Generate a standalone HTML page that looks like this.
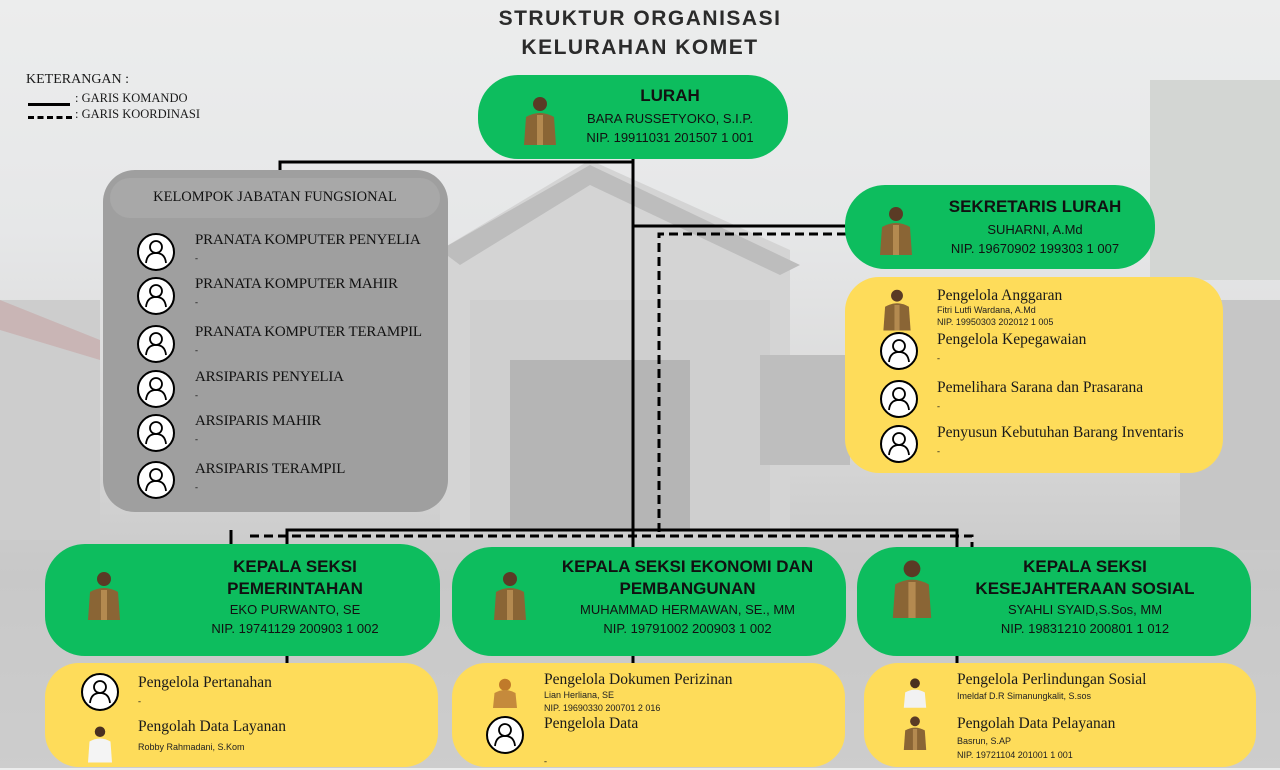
<!DOCTYPE html>
<html><head><meta charset="utf-8"><style>
*{margin:0;padding:0;box-sizing:border-box}
body{width:1280px;height:768px;position:relative;overflow:hidden;font-family:"Liberation Sans",sans-serif;background:linear-gradient(#eceded 0%,#e6e7e8 30%,#d9d9d9 55%,#c9c9c9 75%,#d2d2d2 100%)}
.a{position:absolute}
.g{position:absolute;background:#0dbd5e;border-radius:40px}
.y{position:absolute;background:#fedc5a;border-radius:34px}
.c{text-align:center;color:#111}
.h{font-weight:bold;font-size:17px;line-height:22px}
.s{font-size:13px;line-height:19px}
.sf{font-family:"Liberation Serif",serif;color:#1a1a1a}
.t{font-size:15.5px}
.tg{font-size:15px;letter-spacing:-0.2px}
.sm{font-size:9px;font-family:"Liberation Sans",sans-serif;color:#222}
</style></head><body>
<svg class="a" style="left:0;top:0" width="1280" height="768">
<polygon points="440,250 590,160 790,250 790,530 440,530" fill="#d4d4d4"/>
<polygon points="440,250 590,165 800,265 780,275 590,185 460,265" fill="#bdbdbd"/>
<rect x="470" y="300" width="300" height="230" fill="#cfcfcf"/>
<rect x="510" y="360" width="180" height="170" fill="#b5b5b5"/>
<rect x="760" y="355" width="90" height="110" fill="#bebebe"/>
<rect x="0" y="300" width="100" height="240" fill="#cdcdcd"/>
<polygon points="0,300 100,340 100,360 0,330" fill="#c9b5b5"/>
<rect x="1150" y="80" width="130" height="200" fill="#d3d6d3"/>
<rect x="1180" y="300" width="100" height="250" fill="#c6c6c6"/>
<rect x="0" y="540" width="1280" height="228" fill="#c8c8c8" opacity=".5"/>
</svg>

<div class="a c" style="left:440px;top:4px;width:400px;font-weight:bold;font-size:21px;line-height:29px;letter-spacing:1.5px;color:#2b2b2b">STRUKTUR ORGANISASI<br>KELURAHAN KOMET</div>

<div class="a sf" style="left:26px;top:72px;font-size:14px">KETERANGAN :</div>
<div class="a" style="left:28px;top:103px;width:42px;border-top:3px solid #000"></div>
<div class="a sf" style="left:75px;top:91px;font-size:12.5px">: GARIS KOMANDO</div>
<div class="a" style="left:28px;top:116px;width:44px;border-top:3px dashed #000"></div>
<div class="a sf" style="left:75px;top:107px;font-size:12.5px">: GARIS KOORDINASI</div>

<svg class="a" style="left:0;top:0" width="1280" height="768">
<g stroke="#000" stroke-width="3" fill="none">
<polyline points="280,172 280,162 632,162"/>
<line x1="633" y1="158" x2="633" y2="548"/>
<line x1="633" y1="226" x2="846" y2="226"/>
<polyline points="287,547 287,530 957,530 957,547"/>
<line x1="231" y1="530" x2="231" y2="546"/>
<line x1="287" y1="655" x2="287" y2="665"/>
<line x1="633" y1="655" x2="633" y2="665"/>
<line x1="957" y1="655" x2="957" y2="665"/>
</g>
<g stroke="#000" stroke-width="3" fill="none" stroke-dasharray="9,5">
<polyline points="846,234 659,234 659,536"/>
<polyline points="250,536 972,536 972,550"/>
</g>
</svg>

<svg width="0" height="0" style="position:absolute"><defs>
<g id="pi"><circle cx="19" cy="19" r="18" fill="#fff" stroke="#000" stroke-width="2"/><circle cx="19" cy="14" r="6" fill="none" stroke="#000" stroke-width="1.8"/><path d="M9,30 Q10,20 19,20 Q28,20 29,30" fill="none" stroke="#000" stroke-width="1.8"/></g>
<g id="ph"><circle cx="20" cy="9" r="7" fill="#5a3b25"/><path d="M4,50 L6,22 Q20,14 34,22 L36,50Z" fill="#8a6535"/><rect x="17" y="20" width="6" height="30" fill="#b48a50"/></g>
</defs></svg>

<div class="g" style="left:478px;top:75px;width:310px;height:84px"></div>
<svg class="a" style="left:520px;top:95px" width="40" height="52"><use href="#ph"/></svg>
<div class="a c" style="left:570px;top:85px;width:200px"><div class="h">LURAH</div><div class="s" style="margin-top:2px">BARA RUSSETYOKO, S.I.P.</div><div class="s">NIP. 19911031 201507 1 001</div></div>

<div class="a" style="left:103px;top:170px;width:345px;height:342px;background:#9f9f9f;border-radius:32px"></div>
<div class="a" style="left:110px;top:178px;width:330px;height:40px;background:#a8a8a8;border-radius:20px"></div>
<div class="a sf c" style="left:110px;top:189px;width:330px;font-size:14.5px;color:#111">KELOMPOK JABATAN FUNGSIONAL</div>
<div class="a" style="left:137px;top:233px">
<svg width="40" height="280" style="position:absolute;left:0;top:0"><use href="#pi" y="0"/><use href="#pi" y="44"/><use href="#pi" y="92"/><use href="#pi" y="137"/><use href="#pi" y="181"/><use href="#pi" y="228"/></svg>
</div>
<div class="a sf tg" style="left:195px;top:232px;line-height:17px;color:#111">PRANATA KOMPUTER PENYELIA<br><span style="font-size:9px">-</span></div>
<div class="a sf tg" style="left:195px;top:276px;line-height:17px;color:#111">PRANATA KOMPUTER MAHIR<br><span style="font-size:9px">-</span></div>
<div class="a sf tg" style="left:195px;top:324px;line-height:17px;color:#111">PRANATA KOMPUTER TERAMPIL<br><span style="font-size:9px">-</span></div>
<div class="a sf tg" style="left:195px;top:369px;line-height:17px;color:#111">ARSIPARIS PENYELIA<br><span style="font-size:9px">-</span></div>
<div class="a sf tg" style="left:195px;top:413px;line-height:17px;color:#111">ARSIPARIS MAHIR<br><span style="font-size:9px">-</span></div>
<div class="a sf tg" style="left:195px;top:461px;line-height:17px;color:#111">ARSIPARIS TERAMPIL<br><span style="font-size:9px">-</span></div>

<div class="g" style="left:845px;top:185px;width:310px;height:84px"></div>
<svg class="a" style="left:876px;top:205px" width="44" height="54"><use href="#ph"/></svg>
<div class="a c" style="left:930px;top:196px;width:210px"><div class="h">SEKRETARIS LURAH</div><div class="s" style="margin-top:2px">SUHARNI, A.Md</div><div class="s">NIP. 19670902 199303 1 007</div></div>

<div class="y" style="left:845px;top:277px;width:378px;height:196px"></div>
<svg class="a" style="left:880px;top:288px" width="40" height="180"><g transform="scale(.85)"><use href="#ph"/></g><use href="#pi" y="44"/><use href="#pi" y="92"/><use href="#pi" y="137"/></svg>
<div class="a sf t" style="left:937px;top:287px;line-height:17px">Pengelola Anggaran<div class="sm" style="line-height:12px">Fitri Lutfi Wardana, A.Md<br>NIP. 19950303 202012 1 005</div></div>
<div class="a sf t" style="left:937px;top:331px;line-height:17px">Pengelola Kepegawaian<br><span style="font-size:9px">-</span></div>
<div class="a sf t" style="left:937px;top:379px;line-height:17px">Pemelihara Sarana dan Prasarana<br><span style="font-size:9px">-</span></div>
<div class="a sf t" style="left:937px;top:424px;line-height:17px">Penyusun Kebutuhan Barang Inventaris<br><span style="font-size:9px">-</span></div>

<div class="g" style="left:45px;top:544px;width:395px;height:112px"></div>
<svg class="a" style="left:84px;top:570px" width="46" height="54"><use href="#ph"/></svg>
<div class="a c" style="left:170px;top:556px;width:250px"><div class="h">KEPALA SEKSI<br>PEMERINTAHAN</div><div class="s">EKO PURWANTO, SE</div><div class="s">NIP. 19741129 200903 1 002</div></div>

<div class="g" style="left:452px;top:547px;width:394px;height:109px"></div>
<svg class="a" style="left:490px;top:570px" width="46" height="54"><use href="#ph"/></svg>
<div class="a c" style="left:545px;top:556px;width:285px"><div class="h">KEPALA SEKSI EKONOMI DAN<br>PEMBANGUNAN</div><div class="s">MUHAMMAD HERMAWAN, SE., MM</div><div class="s">NIP. 19791002 200903 1 002</div></div>

<div class="g" style="left:857px;top:547px;width:394px;height:109px"></div>
<svg class="a" style="left:888px;top:558px" width="50" height="64"><g transform="scale(1.2)"><use href="#ph"/></g></svg>
<div class="a c" style="left:960px;top:556px;width:250px"><div class="h">KEPALA SEKSI<br>KESEJAHTERAAN SOSIAL</div><div class="s">SYAHLI SYAID,S.Sos, MM</div><div class="s">NIP. 19831210 200801 1 012</div></div>

<div class="y" style="left:45px;top:663px;width:393px;height:104px"></div>
<svg class="a" style="left:81px;top:673px" width="40" height="90"><use href="#pi"/><g transform="translate(4,52) scale(.75)"><circle cx="20" cy="9" r="7" fill="#4a3020"/><path d="M4,50 L6,22 Q20,14 34,22 L36,50Z" fill="#f4f4f4"/></g></svg>
<div class="a sf t" style="left:138px;top:674px;line-height:17px">Pengelola Pertanahan<br><span style="font-size:9px">-</span></div>
<div class="a sf t" style="left:138px;top:718px;line-height:17px">Pengolah Data Layanan<div class="sm" style="margin-top:4px">Robby Rahmadani, S.Kom</div></div>

<div class="y" style="left:452px;top:663px;width:393px;height:104px"></div>
<svg class="a" style="left:486px;top:678px" width="40" height="80"><g transform="translate(4,0) scale(.75)"><circle cx="20" cy="9" r="8" fill="#c07a2a"/><path d="M4,40 L6,20 Q20,12 34,20 L36,40Z" fill="#c58a3c"/></g><use href="#pi" y="38"/></svg>
<div class="a sf t" style="left:544px;top:671px;line-height:17px">Pengelola Dokumen Perizinan<div class="sm" style="line-height:13px;margin-top:1px">Lian Herliana, SE<br>NIP. 19690330 200701 2 016</div></div>
<div class="a sf t" style="left:544px;top:715px;line-height:17px">Pengelola Data<br><span style="font-size:9px">&nbsp;</span><br><span style="font-size:9px">-</span></div>

<div class="y" style="left:864px;top:663px;width:392px;height:104px"></div>
<svg class="a" style="left:901px;top:677px" width="32" height="80"><g transform="scale(.7)"><circle cx="20" cy="9" r="7" fill="#4a3020"/><path d="M4,44 L6,22 Q20,14 34,22 L36,44Z" fill="#f2f2f2"/></g><g transform="translate(0,38) scale(.7)"><use href="#ph"/></g></svg>
<div class="a sf t" style="left:957px;top:671px;line-height:17px">Pengelola Perlindungan Sosial<div class="sm">Imeldaf D.R Simanungkalit, S.sos</div></div>
<div class="a sf t" style="left:957px;top:715px;line-height:17px">Pengolah Data Pelayanan<div class="sm" style="line-height:14px;margin-top:2px">Basrun, S.AP<br>NIP. 19721104 201001 1 001</div></div>
</body></html>
